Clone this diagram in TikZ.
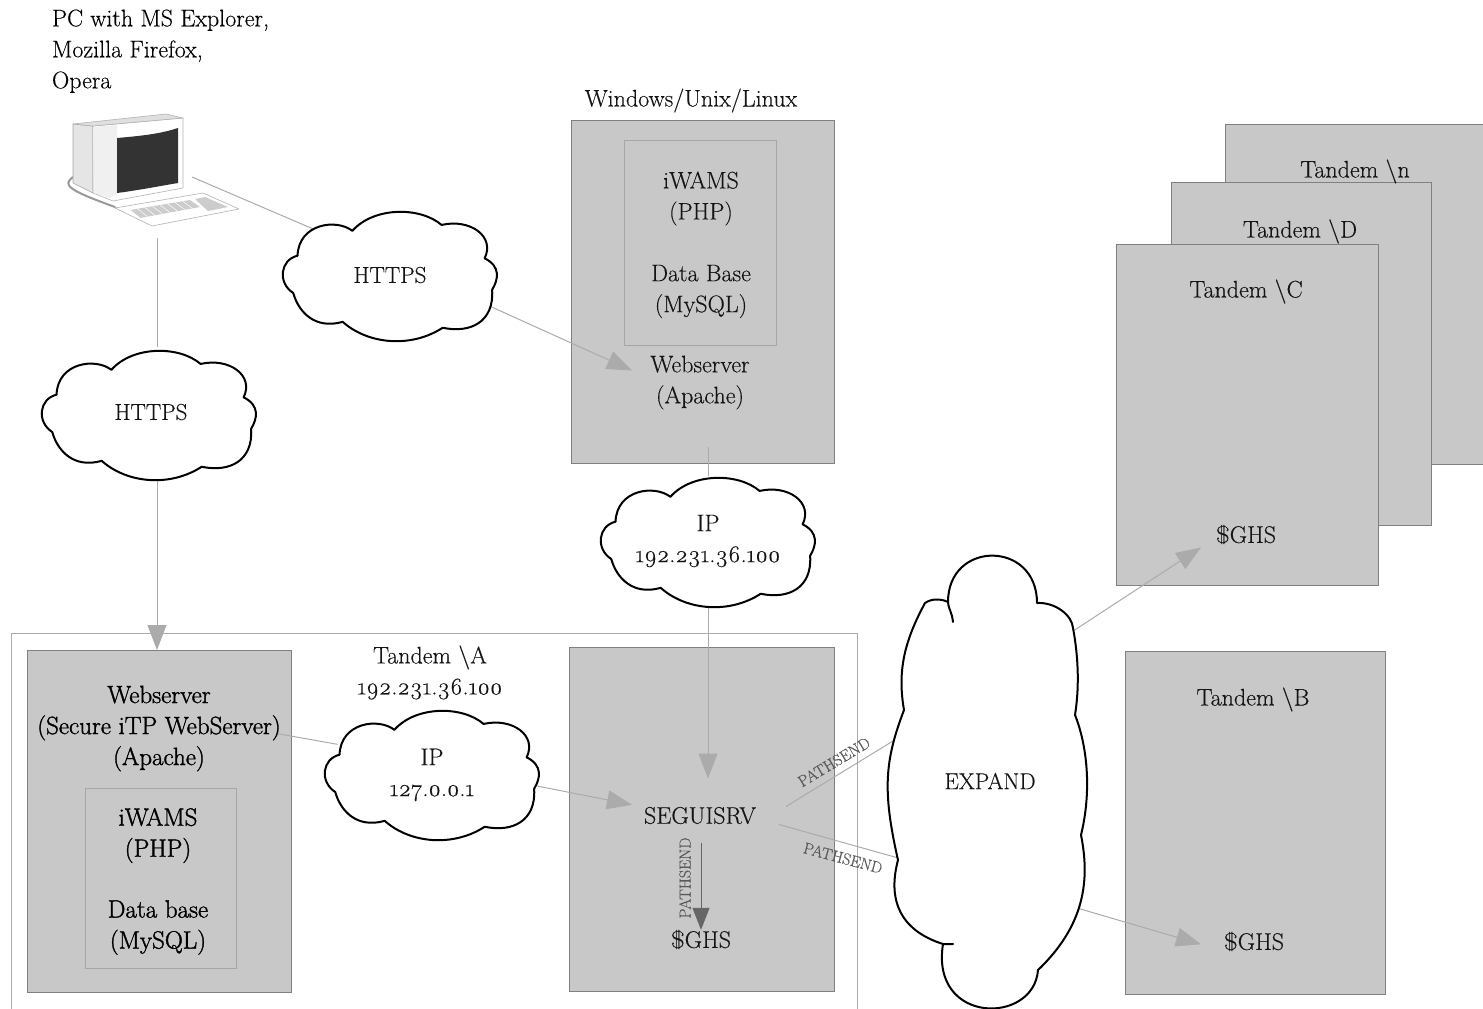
\documentclass[tikz,border=0pt]{standalone}
\usepackage{fontspec}
\setmainfont{Latin Modern Roman}[Numbers=OldStyle,FakeBold=0.25]
\newfontface\heavyface{Latin Modern Roman}[Numbers=OldStyle,FakeBold=1.4]
\usetikzlibrary{arrows.meta,shapes.geometric,calc}
\pgfdeclarelayer{boxes}\pgfdeclarelayer{wires}\pgfdeclarelayer{clouds}
\pgfsetlayers{boxes,wires,clouds,main}
\definecolor{boxgray}{HTML}{C8C8C8}
\definecolor{edgegray}{HTML}{808080}
\definecolor{wiregray}{HTML}{ABABAB}
\definecolor{inktext}{HTML}{141414}
\tikzset{
  x=1pt,y=-1pt,
  graybox/.style={draw=edgegray,fill=boxgray,line width=1pt,rectangle,anchor=north west,inner sep=0pt,outer sep=0pt},
  innerbox/.style={draw=#1,line width=.8pt,rectangle,anchor=north west,inner sep=0pt,outer sep=0pt},
  lbl/.style={text=inktext,align=center,font=\fontsize{24}{31}\selectfont,inner sep=0pt,outer sep=0pt,yshift=-1.5pt},
  boldlbl/.style={lbl,text=black,font=\heavyface\fontsize{25}{31}\selectfont},
  smalllbl/.style={text=black!65,font=\fontsize{16}{16}\selectfont,inner sep=0pt},
  cloudspot/.style={ellipse,minimum width=214pt,minimum height=130pt,inner sep=0pt,outer sep=0pt,align=center,text=inktext,font=\fontsize{24}{31}\selectfont},
  cloudline/.style={draw=black,fill=white,line width=2pt,line join=round},
  wire/.style={draw=wiregray,line width=1pt},
  arrowwire/.style={wire,-{Triangle[length=25pt,width=19pt,fill=wiregray]}},
  darkwire/.style={draw=edgegray!80!black,line width=1pt,-{Triangle[length=22pt,width=17pt,fill=edgegray!80!black]}},
}
\newcommand{\cloudblob}[2]{%
  \begin{scope}[shift={(#1,#2)},x=107.5pt,y=-65.5pt]
  \path[cloudline] (-.35,-.69)
    .. controls (-.15,-1.06) and (.28,-1.06) .. (.48,-.78)
    .. controls (.75,-.88) and (.98,-.6) .. (.88,-.27)
    .. controls (1.03,-.15) and (1.01,.05) .. (.95,.21)
    .. controls (.97,.7) and (.75,.88) .. (.49,.79)
    .. controls (.2,1.1) and (-.2,1.05) .. (-.44,.70)
    .. controls (-.7,.82) and (-.85,.55) .. (-.90,.26)
    .. controls (-1.05,.1) and (-1.02,-.25) .. (-.86,-.31)
    .. controls (-.85,-.8) and (-.5,-.88) .. cycle;
  \end{scope}}
\begin{document}
\begin{tikzpicture}
\useasboundingbox (0,0) rectangle (1483,1009);

% boxes
\begin{pgfonlayer}{boxes}
\node[innerbox=wiregray,minimum width=846pt,minimum height=380pt] (tandemA) at (11,633) {};
\node[graybox,minimum width=263pt,minimum height=343pt] (winbox) at (571,120) {};
\node[innerbox=edgegray!70,minimum width=152pt,minimum height=205pt] (wininner) at (624,140) {};
\node[graybox,minimum width=262pt,minimum height=340pt] (boxn) at (1225,124) {};
\node[graybox,minimum width=260pt,minimum height=343pt] (boxd) at (1171,182) {};
\node[graybox,minimum width=262pt,minimum height=341pt] (boxc) at (1116,244) {};
\node[graybox,minimum width=260pt,minimum height=343pt] (boxb) at (1125,651) {};
\node[graybox,minimum width=264pt,minimum height=342pt] (lbox) at (27,650) {};
\node[innerbox=edgegray!70,minimum width=151pt,minimum height=180pt] (lboxinner) at (85,788) {};
\node[graybox,minimum width=265pt,minimum height=344pt] (segbox) at (569,647) {};
\end{pgfonlayer}

% text
\node[lbl,align=left,anchor=north west,text=black] (pctext) at (52,8) {PC with MS Explorer,\\Mozilla Firefox,\\Opera};
\node[lbl] (winlabel) at (691,99) {Windows/Unix/Linux};
\node[lbl] (wiwams) at (701,197) {iWAMS\\(PHP)};
\node[lbl] (wdb) at (701,290) {Data Base\\(MySQL)};
\node[lbl,minimum width=136pt,minimum height=60pt] (web) at (700,381) {Webserver\\(Apache)};
\node[lbl] (tn) at (1355,170) {Tandem \textbackslash n};
\node[lbl] (td) at (1300,230) {Tandem \textbackslash D};
\node[lbl] (tc) at (1246,290) {Tandem \textbackslash C};
\node[lbl] (tb) at (1253,698) {Tandem \textbackslash B};
\node[lbl,minimum width=90pt,minimum height=40pt] (ghsc) at (1246,533) {\$GHS};
\node[lbl,minimum width=106pt] (ghsb) at (1254,940) {\$GHS};
\node[lbl,minimum height=14pt] (ghsa) at (701,938) {\$GHS};
\node[lbl,minimum width=136pt,minimum height=54pt] (seg) at (700,814) {SEGUISRV};
\node[lbl] (talabel) at (430,671) {Tandem \textbackslash A\\192.231.36.100};
\node[boldlbl] (lweb) at (159,727) {Webserver\\(Secure iTP WebServer)\\(Apache)};
\node[boldlbl] (liwams) at (158,834) {iWAMS\\(PHP)};
\node[boldlbl] (ldb) at (158,926) {Data base\\(MySQL)};
\node[cloudspot,font=\fontsize{23}{31}\selectfont] (cl1) at (390,275) {HTTPS};
\node[cloudspot,font=\fontsize{23}{31}\selectfont] (cl2) at (151,412) {HTTPS};
\node[cloudspot] (cl4) at (708,541) {IP\\192.231.36.100};
\node[cloudspot] (cl3) at (432,775) {IP\\127.0.0.1};
\node[ellipse,minimum width=230pt,minimum height=480pt,inner sep=0pt,outer sep=0pt,text=inktext,font=\fontsize{23}{31}\selectfont] (expand) at (990,781) {EXPAND};
\node[smalllbl,rotate=31] (ps1) at (834,762) {PATHSEND};
\node[smalllbl,rotate=-15] (ps2) at (843,858) {PATHSEND};
\node[smalllbl,rotate=90] (ps3) at (685,878) {PATHSEND};

\coordinate (pcright) at (192,177);
\coordinate (pcbottom) at (157,238);
\coordinate (webout) at (708,447);

% connectors
\begin{pgfonlayer}{wires}
\draw[wire] (pcright) -- (cl1.149);
\draw[arrowwire] (cl1.-17) -- (web.170);
\draw[wire] (pcbottom) -- (pcbottom |- cl2.north);
\draw[arrowwire] (pcbottom |- cl2.south) -- (pcbottom |- lbox.north);
\draw[wire] (webout) -- (cl4.north);
\draw[arrowwire] (cl4.south) -- (cl4.south |- {$(seg.north)+(0,-10)$});
\draw[wire] ([shift={(-4,5)}]lweb.east) -- (cl3.162);
\draw[arrowwire] (cl3.-6) -- (seg.171);
\draw[wire] ([shift={(18,-9)}]seg.east) -- ([shift={(18,-10)}]expand.165);
\draw[wire] ([shift={(11,9)}]seg.east) -- ([shift={(17,3)}]expand.214);
\draw[arrowwire] ([shift={(-8,5)}]expand.60) -- (ghsc.196);
\draw[arrowwire] ([shift={(-12,-6)}]expand.-54) -- (ghsb.183);
\draw[darkwire] (seg.south -| ghsa.north) -- (ghsa.north);
\end{pgfonlayer}

% clouds
\begin{pgfonlayer}{clouds}
\cloudblob{390}{276}
\cloudblob{149}{415}
\cloudblob{708}{542}
\cloudblob{432}{775}
\path[cloudline] (953,622)
  .. controls (952,612) and (948,608) .. (948,602)
  .. controls (948,540) and (1037,540) .. (1037,603)
  .. controls (1055,602) and (1072,615) .. (1073,628)
  .. controls (1079,660) and (1079,690) .. (1075,715)
  .. controls (1087,745) and (1092,790) .. (1081,835)
  .. controls (1090,880) and (1085,925) .. (1038,970)
  .. controls (1034,1025) and (930,1025) .. (943,944)
  -- (953,944) -- (943,944)
  .. controls (905,932) and (886,905) .. (898,860)
  .. controls (882,790) and (885,760) .. (904,710)
  .. controls (897,670) and (905,640) .. (925,603)
  .. controls (932,598) and (942,599) .. (948,602)
  .. controls (948,608) and (952,612) .. cycle;
\end{pgfonlayer}

% workstation
\begin{scope}[line join=round]
\draw[gray!80,line width=2pt,line cap=round] (73,177) .. controls (62,185) and (68,190) .. (115,207);
\draw[gray!70,line width=.6pt,fill=gray!20] (73,124) -- (93,126) -- (93,193) -- (73,183) -- cycle;
\draw[gray!60,line width=.6pt,fill=white] (93,126) -- (183,118) -- (183,188) -- (113,201) -- (93,193) -- cycle;
\draw[gray!60,line width=.6pt,fill=gray!25] (73,124) -- (166,114) -- (183,118) -- (93,126) -- cycle;
\fill[gray!12] (93,127) -- (117,125) -- (117,193) -- (110,198) -- (94,193) -- cycle;
\fill[black!80] (117,138) .. controls (140,136) and (160,134) .. (178,128) -- (178,183) .. controls (160,186) and (140,190) .. (117,193) -- cycle;
\draw[gray!60,line width=.6pt,fill=white] (115,208) -- (203,193) -- (239,209) -- (152,226) -- cycle;
\fill[gray!40] (130,210) -- (190,200) -- (200,207) -- (140,218) -- cycle;
\fill[gray!40] (195,199) -- (205,197) -- (228,207) -- (208,211) -- cycle;
\foreach \k in {0,1,2,3,4,5,6,7}{\draw[white,line width=.5pt] ($(130,210)!\k/8!(190,200)$) -- ($(140,218)!\k/8!(200,207)$);}
\end{scope}
\end{tikzpicture}
\end{document}
